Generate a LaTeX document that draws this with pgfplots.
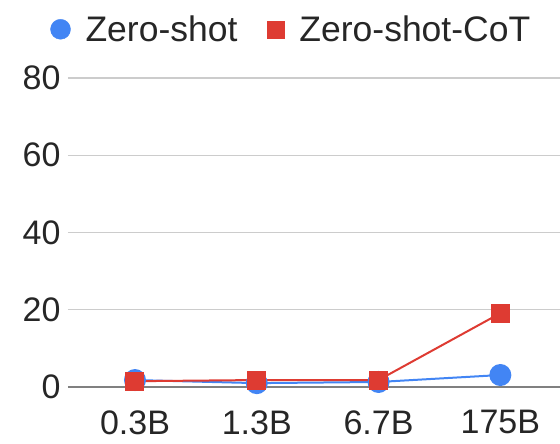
\documentclass[border=0pt]{standalone}
\usepackage{pgfplots}
\pgfplotsset{compat=1.18}
\usepackage{fontspec}
\setmainfont{Liberation Sans}
\definecolor{gblue}{HTML}{4285F4}
\definecolor{gred}{HTML}{DE3B32}
\begin{document}
\begin{tikzpicture}
\begin{axis}[
  name=ax, at={(0,0)}, anchor=south west,
  scale only axis, width=492pt, height=309pt,
  xmin=-0.55, xmax=3.49, ymin=0, ymax=80,
  xtick={0,1,2,3}, xticklabels={0.3B,1.3B,6.7B,175B},
  ytick={20,40,60,80},
  extra y ticks={0},
  extra y tick style={grid=major, major grid style={draw=black!50, line width=2.5pt}},
  ymajorgrids, major grid style={draw=black!20, line width=1.2pt},
  axis line style={draw=none}, major tick length=0pt,
  tick label style={font=\fontsize{34}{40}\selectfont, text=black!85},
  /pgf/number format/assume math mode=true,
  yticklabel style={xshift=-4pt},
  xticklabel style={yshift=-20pt},
  clip=false,
  legend style={at={(-0.042,1.10)}, anchor=south west, draw=none, fill=none,
    font=\fontsize{35.5}{42}\selectfont, text=black!85, legend columns=2,
    /tikz/every odd column/.append style={column sep=13pt},
    /tikz/every even column/.append style={column sep=28pt}},
  legend cell align=left,
]
\addlegendimage{only marks, mark=*, gblue, mark size=10pt}
\addlegendentry{Zero-shot}
\addlegendimage{only marks, mark=square*, gred, mark size=8.5pt}
\addlegendentry{Zero-shot-CoT}
\addplot[gblue, line width=2pt, mark=*, mark size=10pt, forget plot] coordinates {(0,1.8) (1,1.0) (2,1.3) (3,3.1)};
\addplot[gred, line width=2pt, mark=square*, mark size=8.5pt, forget plot] coordinates {(0,1.5) (1,1.8) (2,1.8) (3,19.1)};
\end{axis}
\pgfresetboundingbox
\path (-68pt,-57pt) rectangle (492pt,387pt);
\end{tikzpicture}
\end{document}
